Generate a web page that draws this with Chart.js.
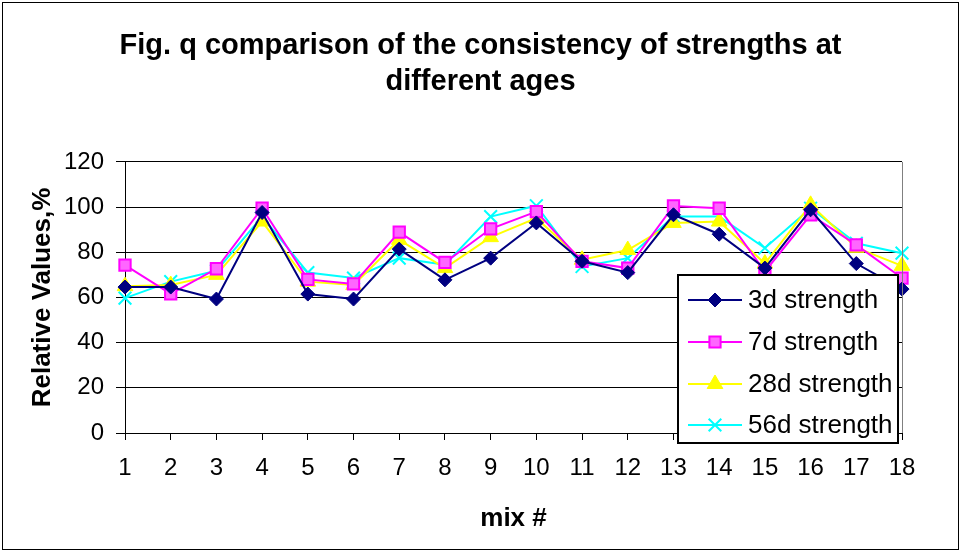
<!DOCTYPE html>
<html>
<head>
<meta charset="utf-8">
<script src="https://cdn.jsdelivr.net/npm/chart.js@4.4.1/dist/chart.umd.min.js"></script>
<style>
  html, body { margin: 0; padding: 0; background: #fff; }
  #wrap { width: 961px; height: 552px; position: relative; }
</style>
</head>
<body>
<div id="wrap"><canvas id="myChart" width="961" height="552"></canvas></div>
<script>
const mixes = ['1', '2', '3', '4', '5', '6', '7', '8', '9', '10', '11', '12', '13', '14', '15', '16', '17', '18'];
const strength3d = [64.6, 64.6, 59.3, 97.6, 61.5, 59.3, 81.4, 67.8, 77.4, 93, 76, 71, 96.6, 88, 73, 98.8, 75, 63.7];
const strength7d = [74.3, 61.6, 72.7, 99.5, 68, 66, 88.9, 75.5, 90.4, 98, 76, 73, 100.5, 99.5, 71.5, 96.6, 83.3, 68.6];
const strength28d = [65, 65.5, 70, 93.6, 67, 65.5, 85.5, 73, 86.7, 95.1, 76.7, 81, 93, 93.6, 75, 101, 82, 74];
const strength56d = [59.7, 67, 71.8, 95.8, 71, 68.6, 77.4, 74.5, 95.8, 100.6, 73.7, 77.4, 95.8, 95.8, 81.9, 99.5, 84, 79.6];
const yTicks = [0, 20, 40, 60, 80, 100, 120];

const FONT = 'Arial, "Liberation Sans", sans-serif';

function drawMarker(c, style, r, x, y) {
    c.beginPath();
    if (style === 'rectRot') {
        c.moveTo(x, y - r); c.lineTo(x + r, y); c.lineTo(x, y + r); c.lineTo(x - r, y); c.closePath();
        c.fill(); c.stroke();
    } else if (style === 'rect') {
        const s = r * 0.7;
        c.rect(x - s, y - s, 2 * s, 2 * s);
        c.fill(); c.stroke();
    } else if (style === 'triangle') {
        c.moveTo(x, y - r); c.lineTo(x + r * 0.87, y + r * 0.5); c.lineTo(x - r * 0.87, y + r * 0.5); c.closePath();
        c.fill(); c.stroke();
    } else {
        const s = r * 0.7;
        c.moveTo(x - s, y - s); c.lineTo(x + s, y + s);
        c.moveTo(x + s, y - s); c.lineTo(x - s, y + s);
        c.stroke();
    }
}

// fundo branco, moldura externa e legenda dentro da área do gráfico
const framePlugin = {
    id: 'frame',
    beforeDraw(chart) {
        const c = chart.ctx;
        c.save();
        c.fillStyle = '#fff';
        c.fillRect(0, 0, chart.width, chart.height);
        c.strokeStyle = '#000';
        c.lineWidth = 1;
        c.strokeRect(2.5, 2.5, 956, 547);
        c.restore();
    },
    afterDraw(chart) {
        const c = chart.ctx;
        const a = chart.chartArea;
        c.save();
        // borda direita cinza da área de plotagem
        c.strokeStyle = '#808080';
        c.lineWidth = 1;
        c.beginPath();
        c.moveTo(Math.round(a.right) + 0.5, a.top);
        c.lineTo(Math.round(a.right) + 0.5, a.bottom);
        c.stroke();

        // legenda
        const bx = 678, by = 275, bw = 220, bh = 168;
        c.fillStyle = '#fff';
        c.fillRect(bx, by, bw, bh);
        c.strokeStyle = '#000';
        c.lineWidth = 2;
        c.strokeRect(bx, by, bw, bh);
        const rows = [300, 342, 384, 425];
        c.font = '26px ' + FONT;
        c.textBaseline = 'middle';
        chart.data.datasets.forEach((ds, i) => {
            const y = rows[i];
            c.strokeStyle = ds.borderColor;
            c.lineWidth = 2;
            c.beginPath();
            c.moveTo(688, y);
            c.lineTo(742, y);
            c.stroke();
            c.fillStyle = ds.pointBackgroundColor;
            c.strokeStyle = ds.pointBorderColor;
            c.lineWidth = ds.pointBorderWidth;
            drawMarker(c, ds.pointStyle, ds.pointRadius, 715, y);
            c.fillStyle = '#000';
            c.fillText(ds.label, 748, y + 1);
        });
        c.restore();
    }
};

const ctx = document.getElementById('myChart').getContext('2d');
new Chart(ctx, {
    type: 'line',
    data: {
        labels: mixes,
        datasets: [{
            label: '3d strength',
            data: strength3d,
            borderColor: '#000080',
            backgroundColor: '#000080',
            pointBackgroundColor: '#000080',
            pointBorderColor: '#000080',
            pointStyle: 'rectRot',
            pointRadius: 7,
            pointBorderWidth: 1,
            borderWidth: 2
        }, {
            label: '7d strength',
            data: strength7d,
            borderColor: '#FF00FF',
            backgroundColor: '#FF00FF',
            pointBackgroundColor: '#FF66FF',
            pointBorderColor: '#FF00FF',
            pointStyle: 'rect',
            pointRadius: 8,
            pointBorderWidth: 2,
            borderWidth: 2
        }, {
            label: '28d strength',
            data: strength28d,
            borderColor: '#FFFF00',
            backgroundColor: '#FFFF00',
            pointBackgroundColor: '#FFFF00',
            pointBorderColor: '#FFFF00',
            pointStyle: 'triangle',
            pointRadius: 9,
            pointBorderWidth: 1,
            borderWidth: 2
        }, {
            label: '56d strength',
            data: strength56d,
            borderColor: '#00FFFF',
            backgroundColor: '#00FFFF',
            pointBackgroundColor: '#00FFFF',
            pointBorderColor: '#00FFFF',
            pointStyle: 'crossRot',
            pointRadius: 9,
            pointBorderWidth: 2,
            borderWidth: 2
        }]
    },
    options: {
        responsive: false,
        animation: false,
        layout: { padding: 0 },
        plugins: {
            legend: { display: false },
            tooltip: { enabled: false },
            title: {
                display: true,
                text: ['Fig. q comparison of the consistency of strengths at', 'different ages'],
                color: '#000',
                font: { family: FONT, size: 29, weight: 'bold', lineHeight: 1.24 },
                padding: { top: 28, bottom: 62 }
            }
        },
        scales: {
            x: {
                offset: false,
                afterFit(scale) { scale.height = 119; },
                grid: { drawOnChartArea: false, drawTicks: true, tickLength: 7, color: '#000' },
                border: { color: '#000', width: 1 },
                ticks: { color: '#000', font: { family: FONT, size: 24 }, padding: 14, maxRotation: 0, autoSkip: false },
                title: {
                    display: true,
                    text: 'mix #',
                    color: '#000',
                    font: { family: FONT, size: 26, weight: 'bold' },
                    padding: { top: 0, bottom: 18 }
                }
            },
            y: {
                min: 0,
                max: 120,
                afterFit(scale) { scale.width = 125; },
                afterBuildTicks(scale) { scale.ticks = yTicks.map(v => ({ value: v })); },
                grid: { color: '#000', lineWidth: 1, tickLength: 9 },
                border: { color: '#000', width: 1 },
                ticks: { color: '#000', font: { family: FONT, size: 24 }, padding: 12 },
                title: {
                    display: true,
                    text: 'Relative Values,%',
                    color: '#000',
                    font: { family: FONT, size: 26, weight: 'bold' },
                    padding: { top: 27, bottom: 0 }
                }
            },
            // eixo vazio à direita só para reservar o espaço da margem
            spacer: {
                position: 'right',
                display: true,
                afterFit(scale) { scale.width = 59; },
                grid: { display: false },
                border: { display: false },
                ticks: { display: false }
            }
        }
    },
    plugins: [framePlugin]
});
</script>
</body>
</html>
